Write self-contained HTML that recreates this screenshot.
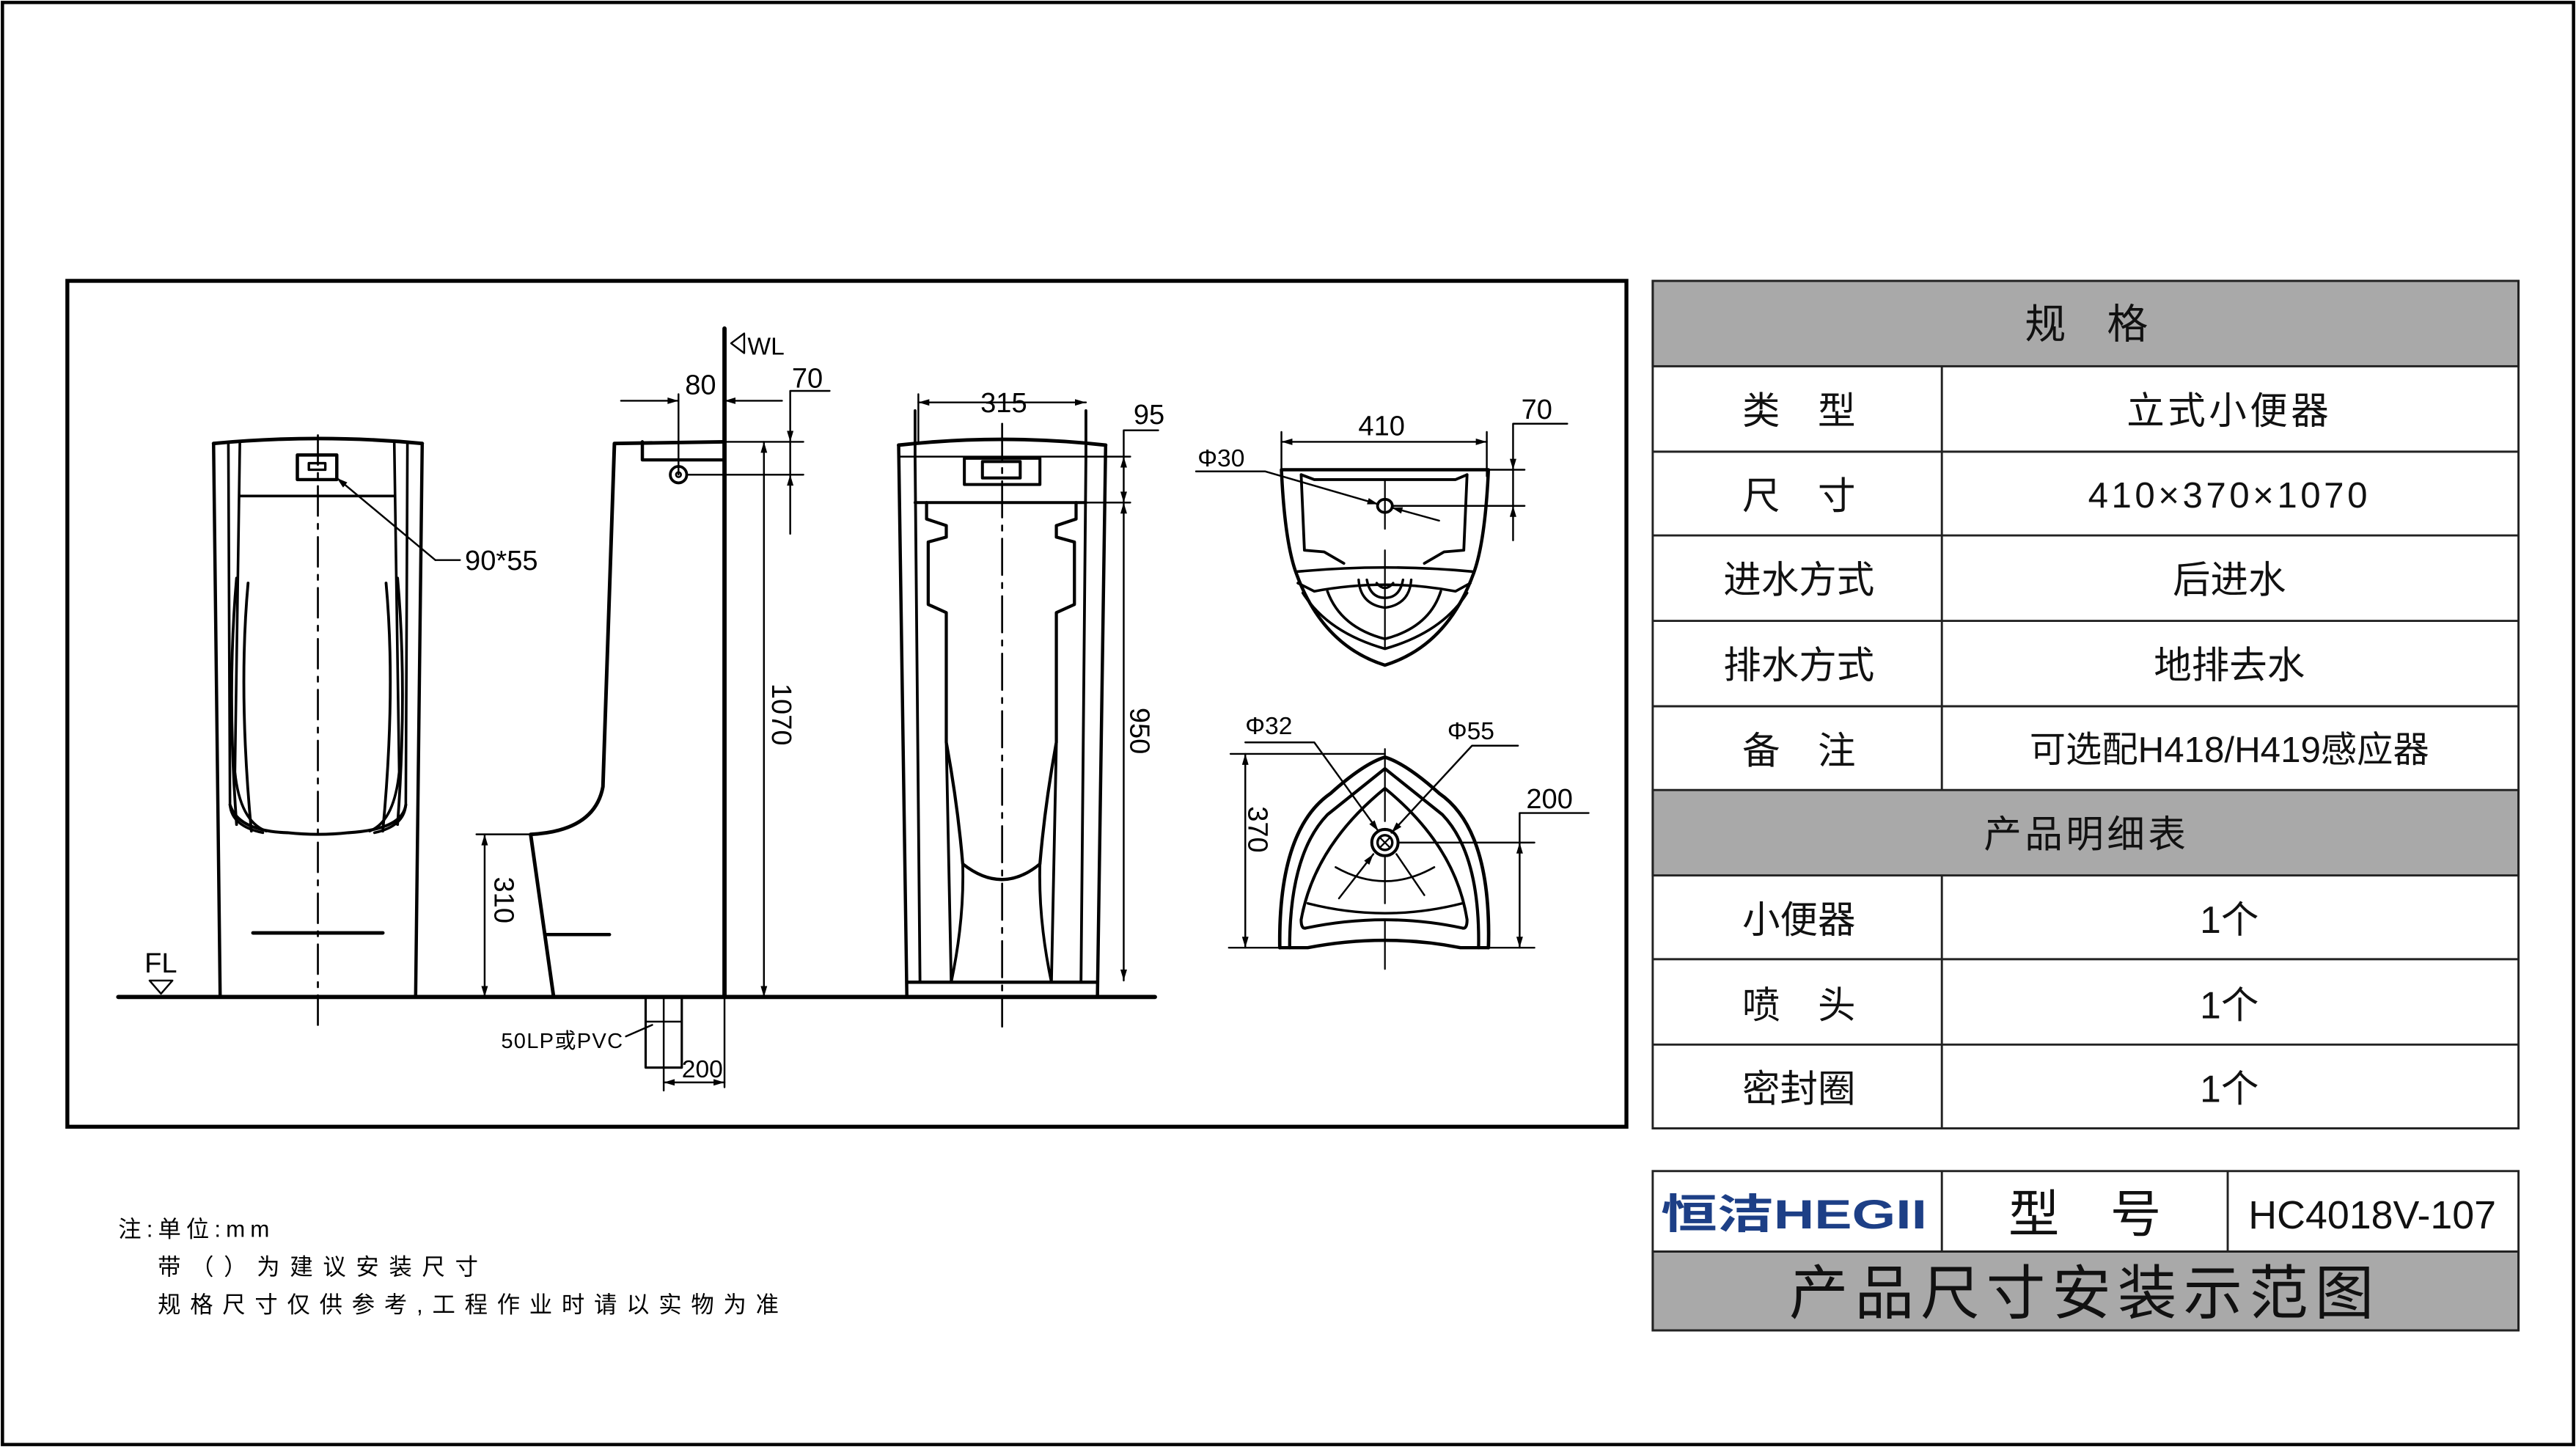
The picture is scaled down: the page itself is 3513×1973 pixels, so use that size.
<!DOCTYPE html>
<html><head><meta charset="utf-8"><style>html,body{margin:0;padding:0;background:#fff}svg{display:block}</style></head>
<body>
<svg width="3513" height="1973" viewBox="0 0 1568 881" preserveAspectRatio="none" xmlns="http://www.w3.org/2000/svg" font-family="Liberation Sans, Noto Sans CJK SC, sans-serif">
<defs>
<marker id="a" viewBox="0 0 10 6" refX="10" refY="3" markerWidth="10" markerHeight="4" markerUnits="userSpaceOnUse" orient="auto-start-reverse"><path d="M0,0 L10,3 L0,6z" fill="#000"/></marker>
</defs>
<rect x="0" y="0" width="1568" height="881" fill="#fff"/>
<rect x="1.5" y="1.5" width="1565" height="878" fill="none" stroke="#000" stroke-width="2"/>
<rect x="41" y="171" width="949" height="515" fill="none" stroke="#000" stroke-width="2.4"/>

<g fill="none" stroke="#000" stroke-linecap="round" stroke-linejoin="round">
<line x1="72" y1="607" x2="703" y2="607" stroke-width="2.6"/>
<!-- FRONT VIEW -->
<path d="M130,270 Q194,264 257,270" stroke-width="2.2"/>
<path d="M130,270 L134,606 M257,270 L253,606" stroke-width="2"/>
<path d="M139,270 L140,490 Q141,503 160,507 M248,270 L247,490 Q246,503 228,507" stroke-width="1.6"/>
<path d="M146,270 L143,470 Q146,500 162,506 M240,270 L243,470 Q240,500 225,506" stroke-width="1.6"/>
<path d="M146,302 L240,302" stroke-width="1.6"/>
<path d="M140,490 Q145,506 175,507 Q194,509 212,507 Q245,505 247,490" stroke-width="1.8"/>
<path d="M144,352 Q138,420 144,502 M151,355 Q145,421 153,506 M242,352 Q248,420 242,502 M235,355 Q241,421 233,506" stroke-width="1.7"/>
<rect x="181" y="277" width="24" height="15" stroke-width="2"/>
<rect x="188" y="282" width="10" height="4" stroke-width="1.5"/>
<line x1="154" y1="568" x2="233" y2="568" stroke-width="2.2"/>
<line x1="193.5" y1="265" x2="193.5" y2="625" stroke-width="1.2" stroke-dasharray="18,5,3,5"/>
<path d="M265,341 L205,291" stroke-width="1.1" marker-end="url(#a)"/>
<line x1="265" y1="341" x2="280" y2="341" stroke-width="1.1"/>
<path d="M91,597 L105,597 L98,605 Z" stroke-width="1.1"/>

<!-- SIDE VIEW -->
<line x1="441" y1="200" x2="441" y2="607" stroke-width="2.6"/>
<line x1="441" y1="607" x2="441" y2="662" stroke-width="1.1"/>
<path d="M453,203 L445,209 L453,215 Z" stroke-width="1.1"/>
<path d="M441,269 L374,270 L367,479 Q362,506 323,508 L337,607" stroke-width="2.2"/>
<path d="M391,269 L391,280 L440,280" stroke-width="2"/>
<line x1="290" y1="508" x2="323" y2="508" stroke-width="1.1"/>
<line x1="332" y1="569" x2="371" y2="569" stroke-width="2"/>
<circle cx="413" cy="289" r="5" stroke-width="1.7"/><circle cx="413" cy="289" r="1.5" stroke-width="1.2"/>
<line x1="413" y1="240" x2="413" y2="289" stroke-width="1.1"/>
<line x1="378" y1="244" x2="413" y2="244" stroke-width="1.1" marker-end="url(#a)"/>
<line x1="476" y1="244" x2="441" y2="244" stroke-width="1.1" marker-end="url(#a)"/>
<line x1="441" y1="269" x2="489" y2="269" stroke-width="1.1"/>
<line x1="418" y1="289" x2="489" y2="289" stroke-width="1.1"/>
<path d="M505,238 L481,238 L481,269" stroke-width="1.1" marker-end="url(#a)"/>
<line x1="481" y1="269" x2="481" y2="289" stroke-width="1.1"/>
<line x1="481" y1="325" x2="481" y2="289" stroke-width="1.1" marker-end="url(#a)"/>
<line x1="465" y1="269" x2="465" y2="607" stroke-width="1.1" marker-start="url(#a)" marker-end="url(#a)"/>
<line x1="295" y1="508" x2="295" y2="607" stroke-width="1.1" marker-start="url(#a)" marker-end="url(#a)"/>
<rect x="393" y="607" width="22" height="43" stroke-width="1.4"/>
<line x1="404" y1="607" x2="404" y2="664" stroke-width="1.1"/>
<line x1="393" y1="622" x2="415" y2="622" stroke-width="1.1"/>
<line x1="404" y1="659" x2="441" y2="659" stroke-width="1.1" marker-start="url(#a)" marker-end="url(#a)"/>
<line x1="381" y1="631" x2="397" y2="624" stroke-width="1.1"/>

<!-- VIEW 2 -->
<path d="M547,271 Q610,264 673,271" stroke-width="2.2"/>
<path d="M547,271 L552,607 M673,271 L668,607" stroke-width="2"/>
<path d="M557,250 L557,278 L560,598 M661,250 L661,278 L658,598" stroke-width="1.7"/>
<path d="M547,278 L688,278 M557,306 L688,306" stroke-width="1.1"/>
<path d="M557,306 L661,306" stroke-width="1.8"/>
<rect x="587" y="279" width="46" height="16" stroke-width="1.8"/>
<rect x="598" y="281" width="23" height="10" stroke-width="1.8"/>
<path d="M564,306 L564,316 L576,320 L576,327 L565,330 L565,368 L576,373 L576,452 Q583,490 586,526 Q610,545 633,526 Q636,490 643,452 L643,373 L654,368 L654,330 L643,327 L643,320 L655,316 L655,306" stroke-width="1.9"/>
<path d="M576,452 L579,598 M586,526 Q587,560 579,598 M643,452 L640,598 M633,526 Q632,560 640,598" stroke-width="1.7"/>
<line x1="552" y1="598" x2="668" y2="598" stroke-width="2"/>
<line x1="610" y1="258" x2="610" y2="625" stroke-width="1.2" stroke-dasharray="22,5,3,5"/>
<line x1="559" y1="245" x2="661" y2="245" stroke-width="1.1" marker-start="url(#a)" marker-end="url(#a)"/>
<line x1="559" y1="240" x2="559" y2="270" stroke-width="1.1"/>
<path d="M705,262 L684,262 L684,278" stroke-width="1.1"/>
<line x1="684" y1="278" x2="684" y2="306" stroke-width="1.1" marker-start="url(#a)" marker-end="url(#a)"/>
<line x1="684" y1="306" x2="684" y2="597" stroke-width="1.1" marker-start="url(#a)" marker-end="url(#a)"/>

<!-- TOP VIEW -->
<line x1="780" y1="269" x2="905" y2="269" stroke-width="1.1" marker-start="url(#a)" marker-end="url(#a)"/>
<line x1="780" y1="263" x2="780" y2="290" stroke-width="1.1"/>
<line x1="905" y1="263" x2="905" y2="290" stroke-width="1.1"/>
<path d="M780,286 L906,286 M780,286 Q782,330 789,349 Q805,393 843,405 Q881,393 897,349 Q904,330 906,286" stroke-width="2"/>
<path d="M792,289 L794,335 L806,336 L818,343 M893,289 L891,335 L879,336 L867,343 M792,289 L800,292 L886,292 L893,289" stroke-width="1.7"/>
<path d="M790,348 Q843,343 896,348 M790,355 L800,360 Q843,352 886,360 L895,355" stroke-width="1.6"/>
<path d="M793,361 Q808,385 843,395 Q878,385 893,361 M808,360 Q816,382 843,389 Q870,382 877,360" stroke-width="1.6"/>
<path d="M827,353 Q828,368 843,370 Q858,368 859,353 M832,353 Q834,364 843,364 Q852,364 854,353 M838,355 Q843,361 848,355" stroke-width="1.5"/>
<ellipse cx="843" cy="308" rx="4.5" ry="4" stroke-width="1.7"/>
<line x1="843" y1="292" x2="843" y2="322" stroke-width="1"/>
<line x1="843" y1="335" x2="843" y2="395" stroke-width="1"/>
<path d="M728,287 L770,287 L839,307" stroke-width="1.1" marker-end="url(#a)"/>
<line x1="876" y1="317" x2="847" y2="309" stroke-width="1.1" marker-end="url(#a)"/>
<line x1="905" y1="286" x2="928" y2="286" stroke-width="1.1"/>
<line x1="848" y1="308" x2="928" y2="308" stroke-width="1.1"/>
<path d="M954,258 L921,258 L921,286" stroke-width="1.1" marker-end="url(#a)"/>
<line x1="921" y1="286" x2="921" y2="308" stroke-width="1.1"/>
<line x1="921" y1="329" x2="921" y2="308" stroke-width="1.1" marker-end="url(#a)"/>

<!-- BOTTOM VIEW -->
<path d="M779,577 Q778,505 810,483 Q830,465 843,461 Q856,465 876,483 Q908,505 906,577" stroke-width="2.1"/>
<path d="M785,577 Q785,520 808,496 L843,468 L878,496 Q901,520 900,577" stroke-width="1.9"/>
<path d="M779,577 L796,577 Q843,568 889,577 L906,577" stroke-width="2"/>
<path d="M792,560 Q800,515 843,480 Q886,515 893,560 Q893,566 890,565 Q843,555 795,565 Q792,566 792,560 Z" stroke-width="1.8"/>
<path d="M796,550 Q843,562 890,550" stroke-width="1.5"/>
<path d="M813,528 Q843,545 873,528" stroke-width="1.2"/>
<circle cx="843" cy="513" r="8" stroke-width="1.8"/><circle cx="843" cy="513" r="4.5" stroke-width="1.5"/>
<path d="M840,510 L846,516 M846,510 L840,516" stroke-width="1"/>
<line x1="843" y1="456" x2="843" y2="500" stroke-width="1"/>
<line x1="843" y1="522" x2="843" y2="550" stroke-width="1"/>
<line x1="843" y1="560" x2="843" y2="590" stroke-width="1"/>
<path d="M758,452 L800,452 L839,506" stroke-width="1.1" marker-end="url(#a)"/>
<path d="M924,454 L896,454 L847,507" stroke-width="1.1" marker-end="url(#a)"/>
<line x1="815" y1="547" x2="836" y2="520" stroke-width="1.1" marker-end="url(#a)"/>
<line x1="867" y1="545" x2="850" y2="520" stroke-width="1.1"/>
<line x1="749" y1="459" x2="843" y2="459" stroke-width="1.1"/>
<line x1="748" y1="577" x2="779" y2="577" stroke-width="1.1"/>
<line x1="906" y1="577" x2="934" y2="577" stroke-width="1.1"/>
<line x1="758" y1="459" x2="758" y2="577" stroke-width="1.1" marker-start="url(#a)" marker-end="url(#a)"/>
<line x1="851" y1="513" x2="934" y2="513" stroke-width="1.1"/>
<path d="M967,495 L925,495 L925,513" stroke-width="1.1"/>
<line x1="925" y1="513" x2="925" y2="577" stroke-width="1.1" marker-start="url(#a)" marker-end="url(#a)"/>
</g>

<g font-size="17" fill="#000">
<text x="283" y="347">90*55</text>
<text x="88" y="592" font-size="17">FL</text>
<text x="455" y="216" font-size="15">WL</text>
<text x="417" y="240">80</text>
<text x="482" y="236">70</text>
<text x="305" y="638" font-size="13" textLength="74">50LP或PVC</text>
<text x="415" y="656" font-size="15">200</text>
<text transform="translate(470,435) rotate(90)" text-anchor="middle" font-size="17">1070</text>
<text x="-548" y="-301" transform="rotate(90) translate(1096,0) scale(1)" font-size="0"> </text>
<text transform="translate(301,548) rotate(90)" text-anchor="middle" font-size="17">310</text>
<text x="611" y="251" text-anchor="middle">315</text>
<text x="690" y="258">95</text>
<text transform="translate(688,445) rotate(90)" text-anchor="middle" font-size="17">950</text>
<text x="841" y="265" text-anchor="middle">410</text>
<text x="926" y="255">70</text>
<text x="729" y="284" font-size="15">Φ30</text>
<text x="758" y="447" font-size="15">Φ32</text>
<text x="881" y="450" font-size="15">Φ55</text>
<text transform="translate(760,505) rotate(90)" text-anchor="middle" font-size="17">370</text>
<text x="929" y="492">200</text>
</g>

<g fill="#000" font-size="14">
<text x="72" y="753" textLength="92">注:单位:mm</text>
<text x="96" y="776" textLength="195">带（）为建议安装尺寸</text>
<text x="96" y="799" textLength="378">规格尺寸仅供参考,工程作业时请以实物为准</text>
</g>

<g stroke="#222" stroke-width="1.3">
<rect x="1006" y="171" width="527" height="52" fill="#a9a9a9"/>
<rect x="1006" y="481" width="527" height="52" fill="#a9a9a9"/>
<rect x="1006" y="171" width="527" height="516" fill="none"/>
<line x1="1006" y1="275" x2="1533" y2="275"/>
<line x1="1006" y1="326" x2="1533" y2="326"/>
<line x1="1006" y1="378" x2="1533" y2="378"/>
<line x1="1006" y1="430" x2="1533" y2="430"/>
<line x1="1006" y1="584" x2="1533" y2="584"/>
<line x1="1006" y1="636" x2="1533" y2="636"/>
<line x1="1182" y1="223" x2="1182" y2="481"/>
<line x1="1182" y1="533" x2="1182" y2="687"/>
<rect x="1006" y="762" width="527" height="48" fill="#a9a9a9"/>
<rect x="1006" y="713" width="527" height="97" fill="none"/>
<line x1="1006" y1="762" x2="1533" y2="762"/>
<line x1="1182" y1="713" x2="1182" y2="762"/>
<line x1="1356" y1="713" x2="1356" y2="762"/>
</g>
<g fill="#111" font-size="23" text-anchor="middle">
<text x="1270" y="206" font-size="25">规　格</text>
<text x="1095" y="258">类　型</text>
<text x="1357" y="258" letter-spacing="2">立式小便器</text>
<text x="1095" y="310">尺　寸</text>
<text x="1357" y="309" font-size="22" letter-spacing="2">410×370×1070</text>
<text x="1095" y="361">进水方式</text>
<text x="1357" y="361">后进水</text>
<text x="1095" y="413">排水方式</text>
<text x="1357" y="413">地排去水</text>
<text x="1095" y="465">备　注</text>
<text x="1357" y="464" font-size="22">可选配H418/H419感应器</text>
<text x="1270" y="516" letter-spacing="2">产品明细表</text>
<text x="1095" y="568">小便器</text>
<text x="1357" y="568">1个</text>
<text x="1095" y="620">喷　头</text>
<text x="1357" y="620">1个</text>
<text x="1095" y="671">密封圈</text>
<text x="1357" y="671">1个</text>
<text x="1269" y="750" font-size="31">型　号</text>
<text x="1444" y="748" font-size="24">HC4018V-107</text>
<text x="1269" y="800" font-size="36" letter-spacing="4">产品尺寸安装示范图</text>
</g>
<text x="1011" y="748" font-size="25" font-weight="bold" fill="#1d3f86" textLength="162" lengthAdjust="spacingAndGlyphs">恒洁HEGII</text>
</svg>
</body></html>
